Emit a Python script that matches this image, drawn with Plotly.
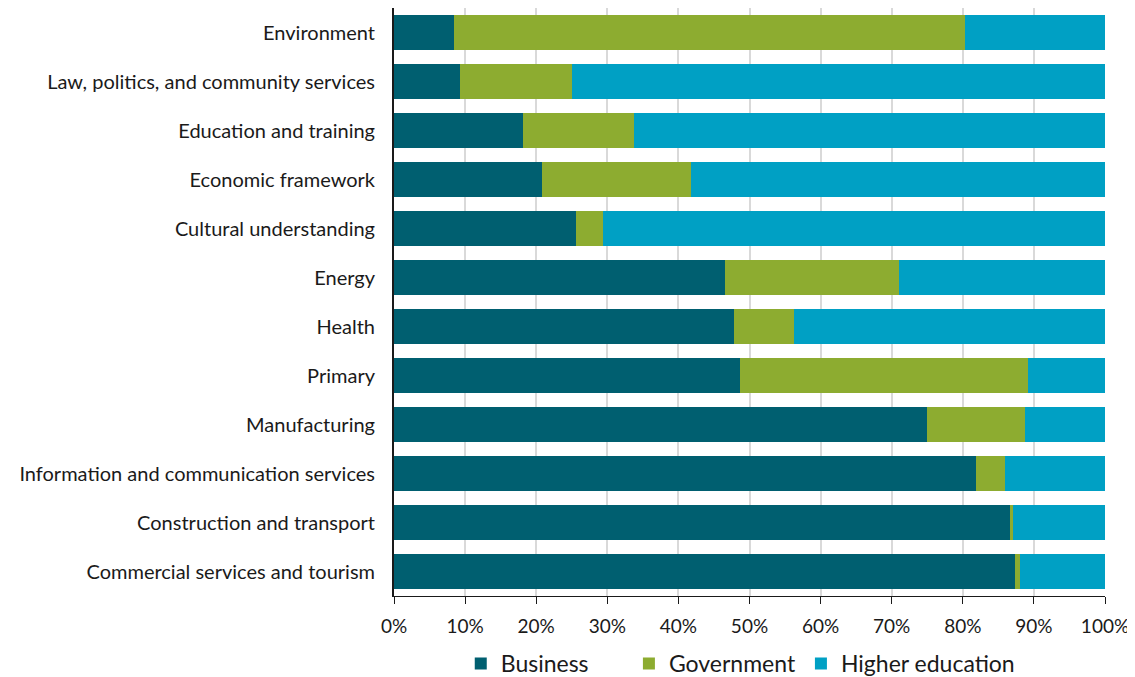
import plotly.graph_objects as go

categories = [
    "Environment",
    "Law, politics, and community services",
    "Education and training",
    "Economic framework",
    "Cultural understanding",
    "Energy",
    "Health",
    "Primary",
    "Manufacturing",
    "Information and communication services",
    "Construction and transport",
    "Commercial services and tourism",
]
business = [8.4, 9.3, 18.2, 20.8, 25.6, 46.6, 47.8, 48.6, 75.0, 81.8, 86.7, 87.4]
government = [71.9, 15.8, 15.6, 21.0, 3.8, 24.4, 8.4, 40.5, 13.7, 4.2, 0.4, 0.6]
higher_education = [round(100 - b - g, 1) for b, g in zip(business, government)]

series_names = ["Business", "Government", "Higher education"]
legend_pad = {"Business": "\u00a0" * 6, "Government": "", "Higher education": ""}
colors = {"Business": "#005F70", "Government": "#8DAC30", "Higher education": "#00A0C4"}

fig = go.Figure()
for name, vals in zip(series_names, [business, government, higher_education]):
    fig.add_trace(go.Bar(
        y=categories, x=vals, name=name + legend_pad[name], orientation="h",
        marker=dict(color=colors[name], line=dict(width=0)),
    ))

fig.update_layout(
    barmode="stack",
    bargap=0.27,
    width=1135, height=677,
    margin=dict(l=386, r=38, t=0, b=88, pad=0),
    paper_bgcolor="white", plot_bgcolor="white",
    font=dict(family="Lato, Calibri, sans-serif", size=20, color="#1a1a1a"),
    legend=dict(orientation="h", x=0.487, xanchor="center", y=-0.114, yanchor="middle",
                font=dict(size=23), itemwidth=30,
                traceorder="normal", itemsizing="constant"),
    showlegend=True,
)
fig.update_xaxes(
    range=[0, 100], dtick=10, ticksuffix="%",
    showgrid=True, gridcolor="#d9d9d9", gridwidth=1.5,
    showline=True, linecolor="#1a1a1a", linewidth=1,
    ticks="outside", ticklen=7, tickcolor="#1a1a1a",
    tickfont=dict(size=19), zeroline=False, ticklabelstandoff=6,
)
fig.update_yaxes(
    autorange="reversed",
    showline=True, linecolor="#1a1a1a", linewidth=2,
    ticks="", tickfont=dict(size=20), ticklabelstandoff=13,
)

fig.write_html("out.html")
